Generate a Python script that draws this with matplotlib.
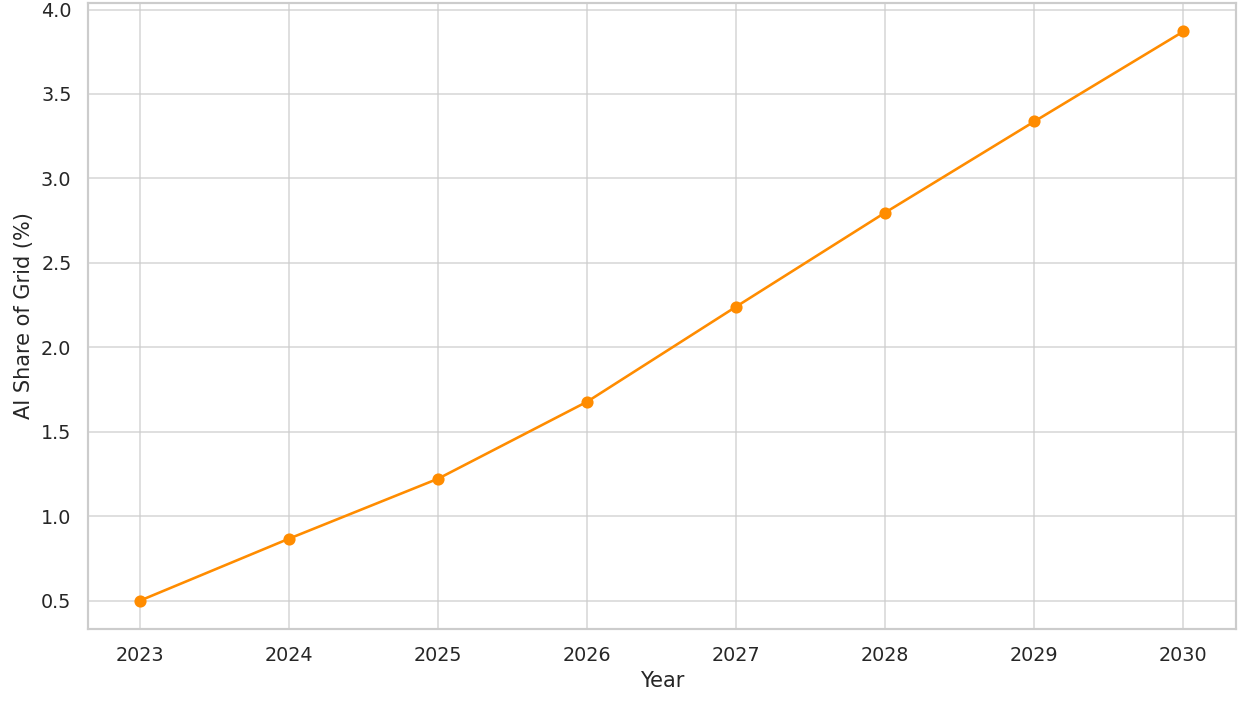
import matplotlib
matplotlib.use("Agg")
import matplotlib.pyplot as plt
import seaborn as sns

years = [2023, 2024, 2025, 2026, 2027, 2028, 2029, 2030]
ai_share = [0.50, 0.867, 1.222, 1.678, 2.241, 2.798, 3.337, 3.870]

sns.set_theme(style="whitegrid")

fig, ax = plt.subplots(figsize=(1248 / 125, 704 / 125), dpi=125)
ax.plot(years, ai_share, marker="o", color="darkorange")
ax.set_xlabel("Year")
ax.set_ylabel("AI Share of Grid (%)")
ax.set_xticks(years)
ax.grid(True, alpha=0.7)

fig.subplots_adjust(left=0.0705, right=0.990, top=0.9957, bottom=0.1065)
fig.savefig("out.png", dpi=125)
